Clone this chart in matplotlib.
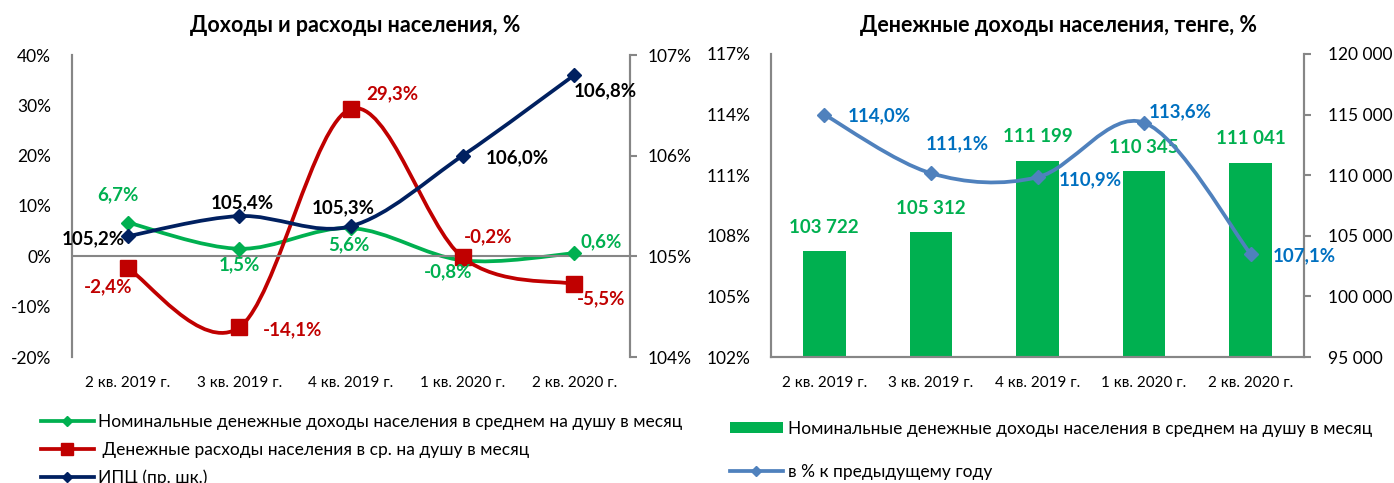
import numpy as np
import matplotlib.pyplot as plt
from matplotlib.path import Path
from matplotlib.patches import PathPatch
from matplotlib.lines import Line2D
from matplotlib.patches import Patch

plt.rcParams['font.family'] = ['Liberation Sans Narrow', 'Lato', 'DejaVu Sans']

# ------------------------------
# ДАННЫЕ
# ------------------------------
kvartaly = ['2 кв. 2019 г.', '3 кв. 2019 г.', '4 кв. 2019 г.', '1 кв. 2020 г.', '2 кв. 2020 г.']
dohody_rost = [6.7, 1.5, 5.6, -0.8, 0.6]          # номинальные доходы, %
rashody_rost = [-2.4, -14.1, 29.3, -0.2, -5.5]    # расходы, %
ipc = [105.2, 105.4, 105.3, 106.0, 106.8]         # ИПЦ, пр. шк.
dohody_tenge = [103722, 105312, 111199, 110345, 111041]
dohody_proc = [114.0, 111.1, 110.9, 113.6, 107.1]

# смещения подписей (пиксели)
off_dohody = [(-10, 28), (0, -16), (-2, -17), (-14, -11), (27, 12)]
off_rashody = [(-20, -18), (53, -2), (41, 15), (26, 21), (27, -15)]
off_ipc = [(-35, -3), (3, 13), (-8, 18), (55, -2), (31, -16)]
off_proc = [(55, -1), (26, 29), (53, -3), (36, 11), (54, -2)]

ZELENYI = '#00B050'
KRASNYI = '#C00000'
SINIY = '#002060'
GOLUBOI = '#4F81BD'
GOLUBOI_TXT = '#0070C0'
SERYI = '#868686'


def fmt_proc(v):
    return f"{v:.1f}%".replace('.', ',')


def sglazh(ax, xs, ys, color, lw=2.7):
    # сглаженная линия как в Excel (кривые Безье)
    p = list(zip(xs, ys))
    n = len(p)
    verts = [p[0]]
    codes = [Path.MOVETO]
    for i in range(n - 1):
        p0 = p[i - 1] if i > 0 else p[i]
        p1 = p[i]
        p2 = p[i + 1]
        p3 = p[i + 2] if i + 2 < n else p[i + 1]
        c1 = (p1[0] + (p2[0] - p0[0]) / 6, p1[1] + (p2[1] - p0[1]) / 6)
        c2 = (p2[0] - (p3[0] - p1[0]) / 6, p2[1] - (p3[1] - p1[1]) / 6)
        verts += [c1, c2, p2]
        codes += [Path.CURVE4] * 3
    ax.add_patch(PathPatch(Path(verts, codes), facecolor='none', edgecolor=color,
                           lw=lw, capstyle='round', joinstyle='round'))


def podpisi(ax, xs, ys, texts, offs, color, size=13.5):
    for x, y, t, o in zip(xs, ys, texts, offs):
        ax.annotate(t, (x, y), xytext=o, textcoords='offset pixels',
                    ha='center', va='center', color=color, fontsize=size,
                    fontweight='bold')


def stil_osei(ax, ax2, pad_prav):
    for a in (ax, ax2):
        for s in a.spines.values():
            s.set_color(SERYI)
            s.set_linewidth(1.5)
    ax.tick_params(axis='y', length=0, pad=15, labelsize=12.5)
    ax2.tick_params(axis='y', length=5, width=1.5, color=SERYI, pad=pad_prav, labelsize=12.5)
    ax.tick_params(axis='x', length=0, pad=14, labelsize=11)


fig = plt.figure(figsize=(13.94, 4.83), dpi=100)
W, H = 1394, 483

# ------------------------------
# ЛЕВЫЙ ГРАФИК
# ------------------------------
ax = fig.add_axes([72 / W, (H - 357) / H, 558 / W, 302 / H])
ax2 = ax.twinx()
x = np.arange(len(kvartaly))

ax.axhline(0, color=SERYI, lw=1.5)
sglazh(ax, x, dohody_rost, ZELENYI)
sglazh(ax, x, rashody_rost, KRASNYI)
sglazh(ax2, x, ipc, SINIY)
ax.plot(x, dohody_rost, 'D', color=ZELENYI, ms=7)
ax.plot(x, rashody_rost, 's', color=KRASNYI, ms=12)
ax2.plot(x, ipc, 'D', color=SINIY, ms=7)

ax.set_xlim(-0.5, 4.5)
ax.set_ylim(-20, 40)
ax2.set_ylim(104, 107)
ax.set_xticks(x)
ax.set_xticklabels(kvartaly)
ax.set_yticks(np.arange(-20, 41, 10))
ax.set_yticklabels([f"{v}%" for v in range(-20, 41, 10)])
ax2.set_yticks([104, 105, 106, 107])
ax2.set_yticklabels(['104%', '105%', '106%', '107%'])
ax.spines['top'].set_visible(False)
ax2.spines['top'].set_visible(False)
ax.spines['bottom'].set_visible(False)
ax2.spines['bottom'].set_visible(False)
stil_osei(ax, ax2, 8)

podpisi(ax, x, dohody_rost, [fmt_proc(v) for v in dohody_rost], off_dohody, ZELENYI)
podpisi(ax, x, rashody_rost, [fmt_proc(v) for v in rashody_rost], off_rashody, KRASNYI)
podpisi(ax2, x, ipc, [fmt_proc(v) for v in ipc], off_ipc, 'black')

fig.text(355 / W, 1 - 25 / H, 'Доходы и расходы населения, %', ha='center', va='center',
         fontsize=15.5, fontweight='bold')

ruchki = [Line2D([], [], color=ZELENYI, lw=2.7, marker='D', ms=5),
          Line2D([], [], color=KRASNYI, lw=2.7, marker='s', ms=9),
          Line2D([], [], color=SINIY, lw=2.7, marker='D', ms=5)]
nazv = ['Номинальные денежные доходы населения в среднем на душу в месяц',
        ' Денежные расходы населения в ср. на душу в месяц',
        'ИПЦ (пр. шк.)']
fig.legend(ruchki, nazv, loc='upper left', bbox_to_anchor=(41 / W, 1 - 414 / H),
           frameon=False, fontsize=12.5, handlelength=3.05, handletextpad=0.25,
           labelspacing=0.67, borderaxespad=0, borderpad=0)

# ------------------------------
# ПРАВЫЙ ГРАФИК
# ------------------------------
bx = fig.add_axes([771 / W, (H - 357) / H, 533 / W, 303 / H])
bx2 = bx.twinx()
bx.set_zorder(bx2.get_zorder() + 1)
bx.patch.set_visible(False)

bary = bx2.bar(x, dohody_tenge, width=0.4, color=ZELENYI)
for xi, v in zip(x, dohody_tenge):
    bx2.annotate(f"{v:,}".replace(',', ' '), (xi, v), xytext=(0, 24),
                 textcoords='offset pixels', ha='center', va='center',
                 color=ZELENYI, fontsize=13.5, fontweight='bold')

sglazh(bx, x, dohody_proc, GOLUBOI)
bx.plot(x, dohody_proc, 'D', color=GOLUBOI, ms=7)
podpisi(bx, x, dohody_proc, [fmt_proc(v) for v in dohody_proc], off_proc, GOLUBOI_TXT)

bx.set_xlim(-0.5, 4.5)
bx.set_ylim(102, 117)
bx2.set_ylim(95000, 120000)
bx.set_xticks(x)
bx.set_xticklabels(kvartaly)
bx.set_yticks([102, 105, 108, 111, 114, 117])
bx.set_yticklabels([f"{v}%" for v in [102, 105, 108, 111, 114, 117]])
bx2.set_yticks(np.arange(95000, 120001, 5000))
bx2.set_yticklabels([f"{v:,}".replace(',', ' ') for v in range(95000, 120001, 5000)])
bx.spines['top'].set_visible(False)
bx2.spines['top'].set_visible(False)
stil_osei(bx, bx2, 12)

fig.text(1059 / W, 1 - 25 / H, 'Денежные доходы населения, тенге, %', ha='center',
         va='center', fontsize=15.5, fontweight='bold')

ruchki2 = [Patch(facecolor=ZELENYI),
           Line2D([], [], color=GOLUBOI, lw=2.7, marker='D', ms=5)]
nazv2 = ['Номинальные денежные доходы населения в среднем на душу в месяц',
         'в % к предыдущему году']
fig.legend(ruchki2, nazv2, loc='upper left', bbox_to_anchor=(730 / W, 1 - 421 / H),
           frameon=False, fontsize=12.5, handlelength=3.05, handleheight=0.6,
           handletextpad=0.3, labelspacing=1.53, borderaxespad=0, borderpad=0)

fig.savefig('out.png', dpi=100)
